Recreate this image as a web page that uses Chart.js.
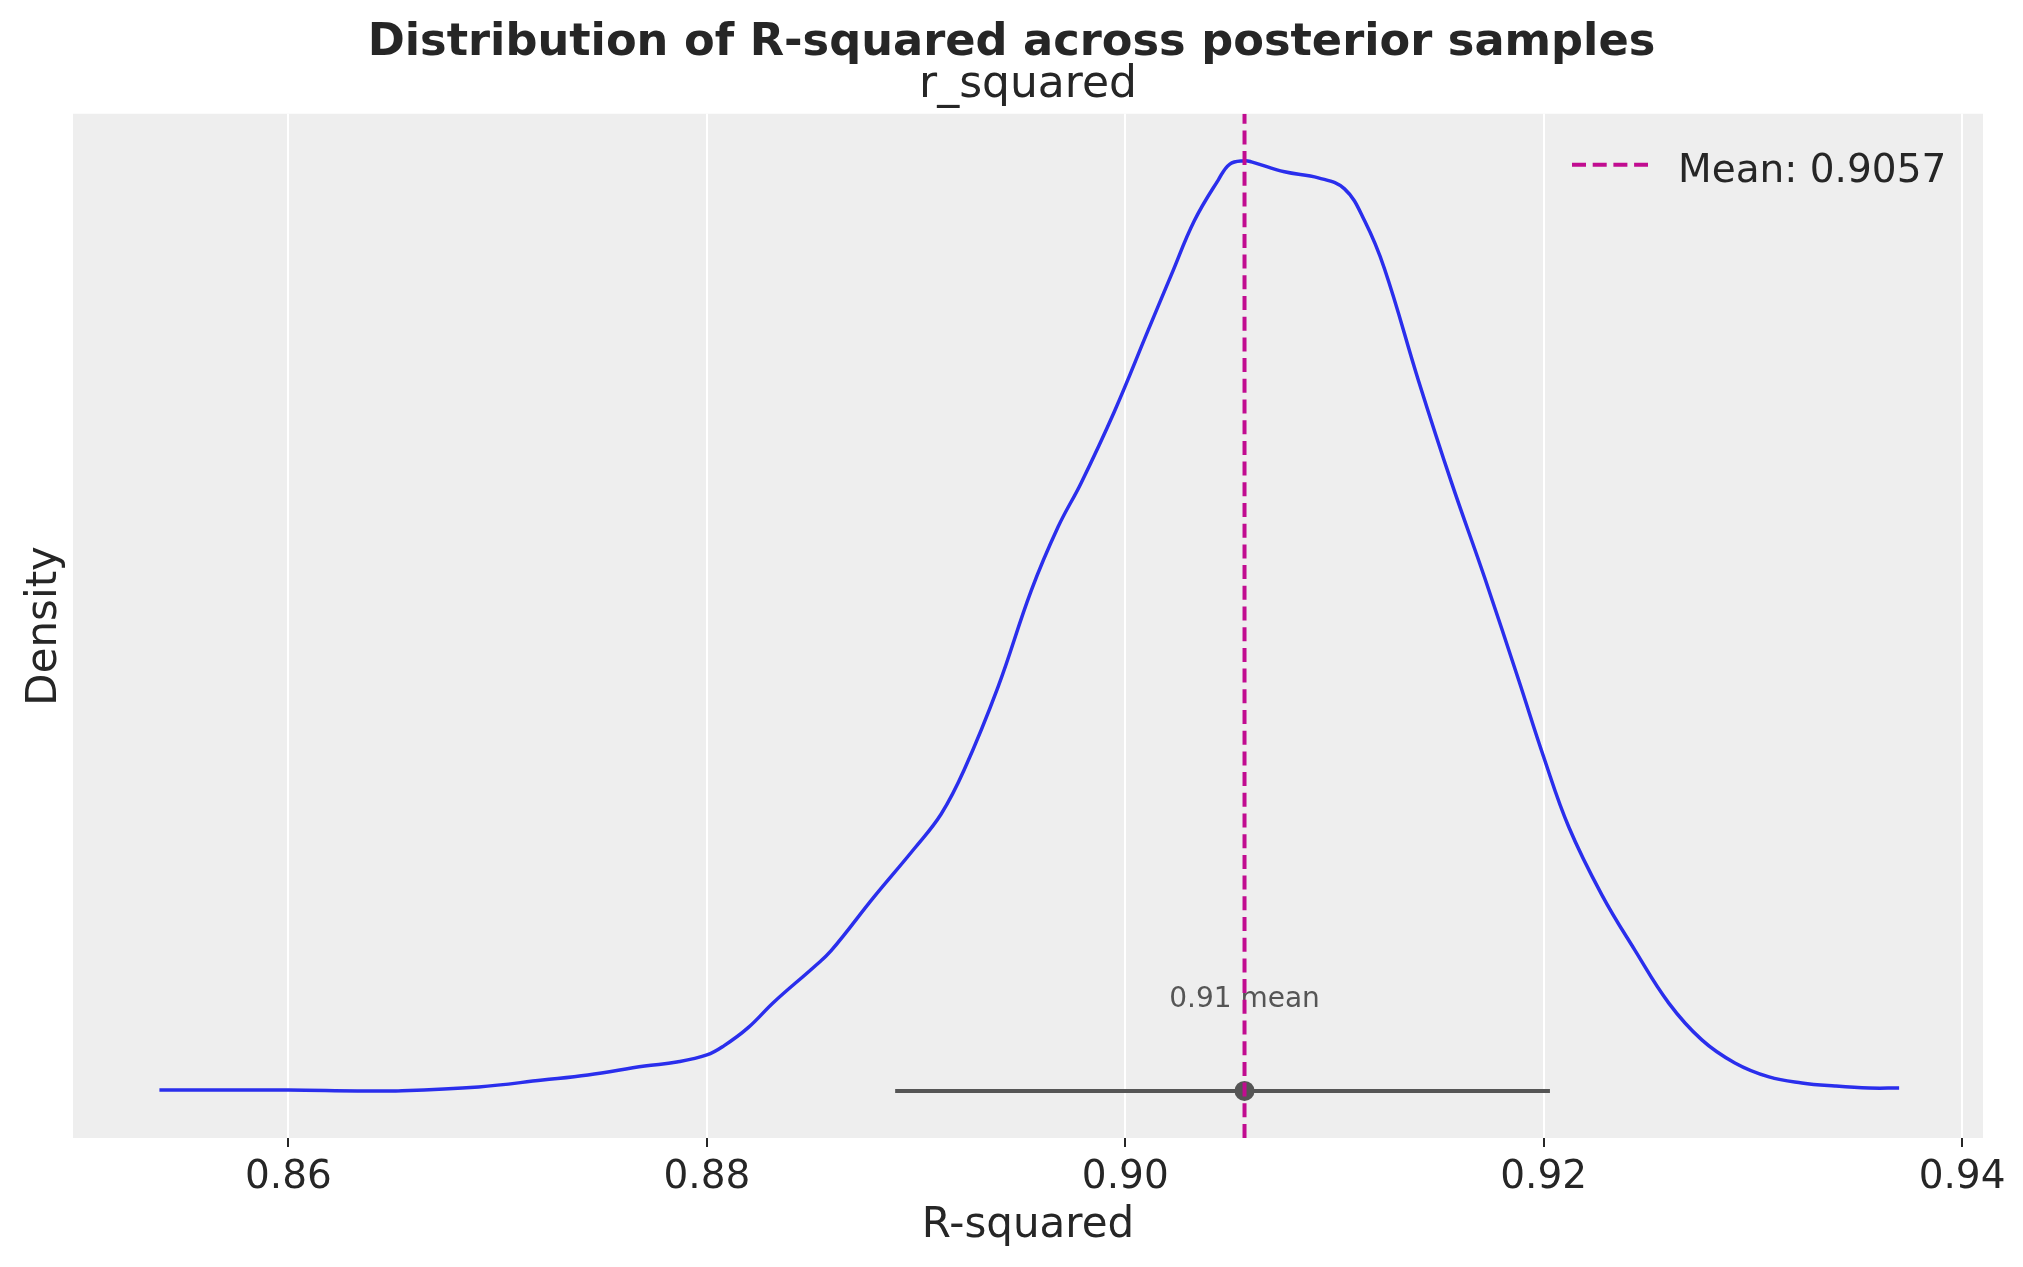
<!DOCTYPE html>
<html>
<head>
<meta charset="utf-8">
<script src="https://cdn.jsdelivr.net/npm/chart.js@4.4.0/dist/chart.umd.min.js"></script>
<style>
html,body{margin:0;padding:0;background:#ffffff;}
canvas{display:block;}
</style>
</head>
<body>
<canvas id="c" width="2023" height="1267" style="width:2023px;height:1267px"></canvas>
<script>
// ---- data ----
const xValues = [0.85383, 0.86000, 0.86330, 0.86512, 0.86909, 0.87215, 0.87431, 0.87703, 0.87856, 0.88000,
  0.88081, 0.88196, 0.88321, 0.88512, 0.88593, 0.88799, 0.88990, 0.89120, 0.89230, 0.89392,
  0.89550, 0.89679, 0.89789, 0.89947, 0.90110, 0.90220, 0.90330, 0.90445, 0.90500, 0.90569,
  0.90603, 0.90761, 0.90923, 0.91048, 0.91144, 0.91239, 0.91402, 0.91560, 0.91718, 0.91880,
  0.92000, 0.92120, 0.92278, 0.92435, 0.92598, 0.92756, 0.92914, 0.93077, 0.93234, 0.93392,
  0.93555, 0.93699];
const densityValues = [0.09, 0.09, 0.05, 0.05, 0.23, 0.54, 0.77, 1.17, 1.35, 1.67,
  2.08, 2.89, 4.06, 5.64, 6.36, 8.80, 10.96, 12.54, 14.53, 18.27,
  22.60, 25.49, 27.47, 30.67, 34.37, 36.85, 39.29, 41.14, 41.85, 42.00,
  41.95, 41.50, 41.23, 40.73, 39.29, 37.13, 32.07, 27.47, 23.19, 18.59,
  15.11, 11.95, 8.89, 6.41, 4.01, 2.35, 1.31, 0.68, 0.41, 0.27,
  0.18, 0.18];
const tickValues = [0.86, 0.88, 0.90, 0.92, 0.94];
const meanValue = 0.9057;
const hdiInterval = [0.8890, 0.9203];
const hdiLevel = 0.05;
const xRange = [0.8497, 0.9410];
const yRange = [-2.075, 44.12];
const titleText = 'Distribution of R-squared across posterior samples';
const subtitleText = 'r_squared';
const xLabel = 'R-squared';
const yLabel = 'Density';

// ---- styling ----
const FONT = '"DejaVu Sans", "Liberation Sans", sans-serif';
const TEXT = '#262626';
const CURVE = '#2a2eec';
const MEAN = '#c10c90';
const HDI = '#555555';

const curveData = xValues.map((x, i) => ({x: x, y: densityValues[i]}));
const hdiData = hdiInterval.map(x => ({x: x, y: hdiLevel}));
const pointData = [{x: meanValue, y: hdiLevel}];
const meanLineData = yRange.map(y => ({x: meanValue, y: y}));

const backgroundPlugin = {
  id: 'bg',
  beforeDraw(chart) {
    const {ctx, chartArea: ca} = chart;
    ctx.save();
    ctx.fillStyle = '#ffffff';
    ctx.fillRect(0, 0, chart.width, chart.height);
    ctx.fillStyle = '#eeeeee';
    ctx.fillRect(ca.left, ca.top, ca.right - ca.left, ca.bottom - ca.top);
    ctx.restore();
  }
};

const annotationPlugin = {
  id: 'annot',
  beforeDatasetsDraw(chart) {
    const ctx = chart.ctx;
    const xs = chart.scales.x, ys = chart.scales.y;
    ctx.save();
    ctx.font = '28px ' + FONT;
    ctx.fillStyle = '#555555';
    ctx.textAlign = 'center';
    ctx.textBaseline = 'alphabetic';
    ctx.fillText(meanValue.toFixed(2) + ' mean', xs.getPixelForValue(meanValue), ys.getPixelForValue(hdiLevel) - 84);
    ctx.restore();
  },
  afterDraw(chart) {
    const ctx = chart.ctx;
    const ca = chart.chartArea;
    ctx.save();
    ctx.strokeStyle = MEAN;
    ctx.lineWidth = 4;
    ctx.setLineDash([14, 6.7]);
    ctx.beginPath();
    ctx.moveTo(ca.right - 411, ca.top + 51);
    ctx.lineTo(ca.right - 335, ca.top + 51);
    ctx.stroke();
    ctx.setLineDash([]);
    ctx.font = '39px ' + FONT;
    ctx.fillStyle = TEXT;
    ctx.textAlign = 'left';
    ctx.textBaseline = 'alphabetic';
    ctx.fillText('Mean: ' + meanValue.toFixed(4), ca.right - 305, ca.top + 68);
    ctx.restore();
  }
};

new Chart(document.getElementById('c'), {
  type: 'line',
  data: {
    datasets: [
      {label: 'mean', data: meanLineData, borderColor: MEAN, borderWidth: 4, borderDash: [14, 6.7],
       pointRadius: 0, fill: false, order: 0},
      {label: 'point', data: pointData, showLine: false, pointRadius: 10, pointBackgroundColor: HDI,
       pointBorderWidth: 0, order: 1},
      {label: 'hdi', data: hdiData, borderColor: HDI, borderWidth: 4, pointRadius: 0, fill: false, order: 2},
      {label: 'r_squared', data: curveData, borderColor: CURVE, borderWidth: 3.5, pointRadius: 0,
       tension: 0.4, fill: false, order: 3}
    ]
  },
  options: {
    responsive: false,
    devicePixelRatio: 1,
    animation: false,
    layout: {padding: {left: 0, right: 0, top: 0, bottom: 0}},
    plugins: {
      legend: {display: false},
      tooltip: {enabled: false},
      title: {display: true, text: titleText, color: TEXT,
              font: {family: FONT, size: 44.7, weight: 'bold', lineHeight: 0.9},
              padding: {top: 23.4, bottom: 0}},
      subtitle: {display: true, text: subtitleText, color: TEXT, fullSize: false,
              font: {family: FONT, size: 44, weight: 'normal', lineHeight: 1.0},
              padding: {top: 0, bottom: 6.1}}
    },
    scales: {
      x: {
        type: 'linear', min: xRange[0], max: xRange[1],
        afterBuildTicks: (axis) => { axis.ticks = tickValues.map(v => ({value: v})); },
        afterFit: (axis) => { axis.height = 129; },
        ticks: {callback: (v) => Number(v).toFixed(2), color: TEXT, font: {family: FONT, size: 39},
                padding: 7, maxRotation: 0, autoSkip: false},
        grid: {color: '#ffffff', lineWidth: 2, drawTicks: true, tickLength: 9, tickColor: TEXT, tickWidth: 2},
        border: {display: false},
        title: {display: true, text: xLabel, color: TEXT, font: {family: FONT, size: 42},
                padding: {top: 0, bottom: 16}}
      },
      y: {
        type: 'linear', min: yRange[0], max: yRange[1],
        afterFit: (axis) => { axis.width = 73; },
        ticks: {display: false},
        grid: {display: false, drawTicks: false},
        border: {display: false},
        title: {display: true, text: yLabel, color: TEXT, font: {family: FONT, size: 42},
                padding: {top: 20, bottom: 0}}
      },
      yRight: {
        type: 'linear', axis: 'y', position: 'right', min: yRange[0], max: yRange[1],
        afterFit: (axis) => { axis.width = 40; },
        ticks: {display: false},
        grid: {display: false, drawTicks: false},
        border: {display: false}
      }
    }
  },
  plugins: [backgroundPlugin, annotationPlugin]
});
</script>
</body>
</html>
